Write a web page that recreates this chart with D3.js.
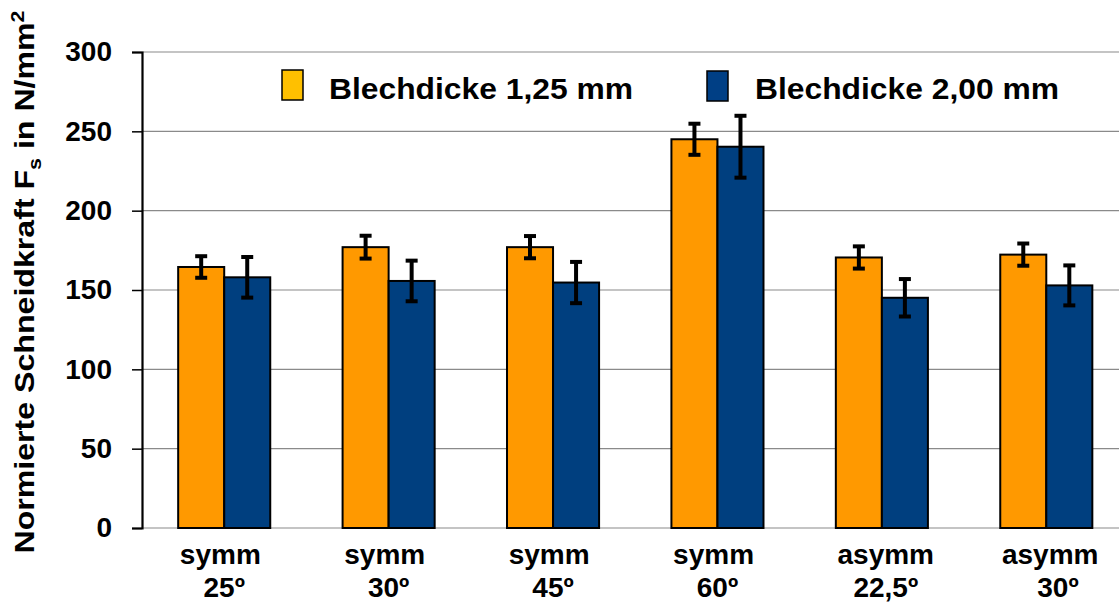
<!DOCTYPE html>
<html>
<head>
<meta charset="utf-8">
<script src="https://cdn.jsdelivr.net/npm/d3@7"></script>
<style>
  html, body { margin: 0; padding: 0; background: #fff; }
  svg { display: block; font-family: "Liberation Sans", Arial, sans-serif; font-weight: bold; }
</style>
</head>
<body>
<svg id="chart" width="1119" height="603"></svg>
<script>
// ---- data ----
const catLine1 = ["symm ", "symm ", "symm ", "symm ", " asymm", " asymm"];
const catLine2 = ["25º", "30º", "45º", "60º", " 22,5º", "   30º"];
const seriesNames = ["Blechdicke 1,25 mm", "Blechdicke 2,00 mm"];
const values125 = [164.5, 177, 177, 245, 170.5, 172.3];
const values200 = [158, 155.7, 154.7, 240.3, 145.1, 152.9];
const err125 = [6.8, 7.2, 7, 9.8, 7, 7];
const err200 = [12.8, 12.8, 13, 19.5, 11.8, 12.6];
const yTicks = [0, 50, 100, 150, 200, 250, 300];
const barColors = ["#FF9900", "#003F7F"];
const legendColors = ["#FFC000", "#003F85"];

// ---- layout ----
const svg = d3.select("#chart");
const plotL = 142, plotR = 1128.5, plotT = 52, plotB = 528;

const cats = d3.range(catLine1.length);
const x0 = d3.scaleBand().domain(cats).range([plotL, plotR]).paddingInner(0.44).paddingOuter(0.22);
const x1 = d3.scaleBand().domain([0, 1]).range([0, x0.bandwidth()]).padding(0);
const y = d3.scaleLinear().domain([0, 300]).range([plotB, plotT]);

// gridlines
svg.append("g").selectAll("line").data(yTicks).join("line")
  .attr("x1", plotL).attr("x2", 1119)
  .attr("y1", d => y(d)).attr("y2", d => y(d))
  .attr("stroke", "#8a8a8a").attr("stroke-width", 1.2);

// y axis
const yAxis = d3.axisLeft(y).tickValues(yTicks).tickSize(10).tickPadding(20);
const gy = svg.append("g").attr("transform", `translate(${plotL},0)`).call(yAxis);
gy.select(".domain").attr("stroke", "#000").attr("stroke-width", 2.2);
gy.selectAll(".tick line").attr("stroke", "#000").attr("stroke-width", 1.5);
gy.selectAll(".tick text").attr("font-size", 28).attr("font-weight", "bold")
  .attr("font-family", "'Liberation Sans', Arial, sans-serif").attr("fill", "#000");

// bars
const rows = cats.map(i => [
  {s: 0, v: values125[i], e: err125[i], i},
  {s: 1, v: values200[i], e: err200[i], i}
]);
const groups = svg.append("g").selectAll("g").data(rows).join("g")
  .attr("transform", (d, i) => `translate(${x0(i)},0)`);
groups.selectAll("rect").data(d => d).join("rect")
  .attr("x", d => x1(d.s)).attr("width", x1.bandwidth())
  .attr("y", d => y(d.v)).attr("height", d => y(0) - y(d.v))
  .attr("fill", d => barColors[d.s]).attr("stroke", "#000").attr("stroke-width", 2);

// error bars
const capW = 12;
const eb = groups.selectAll("g.err").data(d => d).join("g").attr("class", "err");
eb.append("line")
  .attr("x1", d => x1(d.s) + x1.bandwidth() / 2).attr("x2", d => x1(d.s) + x1.bandwidth() / 2)
  .attr("y1", d => y(d.v + d.e)).attr("y2", d => y(d.v - d.e))
  .attr("stroke", "#000").attr("stroke-width", 4);
eb.selectAll("line.cap").data(d => [{d, k: d.v + d.e}, {d, k: d.v - d.e}]).join("line").attr("class", "cap")
  .attr("x1", c => x1(c.d.s) + x1.bandwidth() / 2 - capW / 2)
  .attr("x2", c => x1(c.d.s) + x1.bandwidth() / 2 + capW / 2)
  .attr("y1", c => y(c.k)).attr("y2", c => y(c.k))
  .attr("stroke", "#000").attr("stroke-width", 4);

// x labels
const xl = svg.append("g").selectAll("text").data(cats).join("text")
  .attr("text-anchor", "middle").attr("font-size", 28).attr("fill", "#000")
  .style("white-space", "pre")
  .attr("x", i => x0(i) + x0.bandwidth() / 2);
xl.append("tspan").attr("x", i => x0(i) + x0.bandwidth() / 2).attr("y", 564).text(i => catLine1[i]);
xl.append("tspan").attr("x", i => x0(i) + x0.bandwidth() / 2).attr("y", 597).text(i => catLine2[i]);

// legend
const legendPos = [{sx: 282, sy: 70, tx: 329}, {sx: 707, sy: 71, tx: 755}];
const lg = svg.append("g").selectAll("g").data(seriesNames).join("g");
lg.append("rect").attr("x", (d, i) => legendPos[i].sx).attr("y", (d, i) => legendPos[i].sy)
  .attr("width", 21).attr("height", 30)
  .attr("fill", (d, i) => legendColors[i]).attr("stroke", "#000").attr("stroke-width", 1.5);
lg.append("text").attr("x", (d, i) => legendPos[i].tx).attr("y", 99)
  .attr("font-size", 29).attr("fill", "#000")
  .attr("textLength", 304).attr("lengthAdjust", "spacingAndGlyphs")
  .text(d => d);

// y title
const yt = svg.append("text").attr("transform", "translate(34,282) rotate(-90) scale(1.19,1)")
  .attr("text-anchor", "middle").attr("font-size", 27).attr("fill", "#000");
yt.append("tspan").text("Normierte Schneidkraft F");
yt.append("tspan").attr("font-size", 18).attr("dy", 7).text("s");
yt.append("tspan").attr("dy", -7).text(" in N/mm");
yt.append("tspan").attr("font-size", 18).attr("dy", -10).text("2");
</script>
</body>
</html>
